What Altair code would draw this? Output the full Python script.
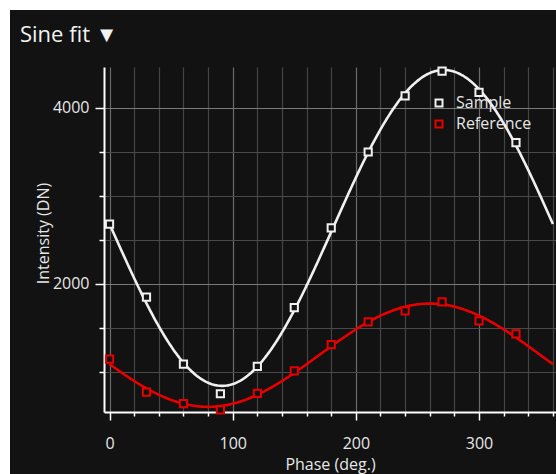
import altair as alt
import numpy as np
import pandas as pd

# ---- data ----
phase = [0, 30, 60, 90, 120, 150, 180, 210, 240, 270, 300, 330]
sample = [2677, 1850, 1089, 752, 1062, 1731, 2635, 3497, 4135, 4416, 4175, 3603]
reference = [1146, 771, 639, 568, 756, 1013, 1311, 1569, 1694, 1796, 1580, 1433]
series_names = ["Sample", "Reference"]
series_colors = ["#f0f0f0", "#e60000"]
x_ticks = list(range(0, 361, 20))
y_ticks = list(range(1000, 4001, 500))
title_text = "Sine fit \u25BC"

BG = "#121212"
TXT = "#e6e6e6"
FONT = "Open Sans"


def sine_fit(x, y, xs):
    """Least-squares fit y = a + b*sin(x) + c*cos(x) (x in degrees)."""
    r = np.radians(np.asarray(x, float))
    A = np.column_stack([np.ones_like(r), np.sin(r), np.cos(r)])
    coef, *_ = np.linalg.lstsq(A, np.asarray(y, float), rcond=None)
    rs = np.radians(xs)
    return coef[0] + coef[1] * np.sin(rs) + coef[2] * np.cos(rs)


pts = pd.DataFrame({
    "phase": phase * 2,
    "value": sample + reference,
    "series": [series_names[0]] * len(phase) + [series_names[1]] * len(phase),
})
xs = np.arange(0, 361, 1.0)
fit = pd.DataFrame({
    "phase": np.concatenate([xs, xs]),
    "value": np.concatenate([sine_fit(phase, sample, xs), sine_fit(phase, reference, xs)]),
    "series": [series_names[0]] * len(xs) + [series_names[1]] * len(xs),
})

x_scale = alt.Scale(domain=[-4.5, 362.5], nice=False, zero=False)
y_scale = alt.Scale(domain=[545, 4462], nice=False, zero=False)

x_axis = alt.Axis(
    values=x_ticks,
    labelExpr="datum.value % 100 === 0 ? datum.label : ''",
    tickSize={"condition": {"test": "datum.value % 100 === 0", "value": 8}, "value": 4},
    gridColor={"condition": {"test": "datum.value % 100 === 0", "value": "#6a6a6a"}, "value": "#444444"},
    title="Phase (deg.)",
    titleX=226, titleY=57, titleAlign="center", titleBaseline="alphabetic",
    labelPadding=15,
)
y_axis = alt.Axis(
    values=y_ticks,
    format="d",
    labelExpr="datum.value % 2000 === 0 ? datum.label : ''",
    tickSize={"condition": {"test": "datum.value % 2000 === 0", "value": 9}, "value": 5},
    gridColor={"condition": {"test": "datum.value % 2000 === 0", "value": "#7a7a7a"}, "value": "#4a4a4a"},
    title="Intensity (DN)",
    titleX=-61, titleY=166, titleAlign="center", titleBaseline="middle", titleAngle=-90,
    labelPadding=6,
)

color_scale = alt.Scale(domain=series_names, range=series_colors)
legend = alt.Legend(
    title=None, orient="none", legendX=327, legendY=28, zindex=0,
    symbolType="square", symbolSize=49, symbolStrokeWidth=2,
    symbolFillColor=BG, labelFontSize=16, labelColor=TXT, labelFont=FONT,
    labelOffset=9, rowPadding=5, padding=0,
)

X = alt.X("phase:Q", scale=x_scale, axis=x_axis)
Y = alt.Y("value:Q", scale=y_scale, axis=y_axis)
C = alt.Color("series:N", scale=color_scale, legend=legend)

lines = alt.Chart(fit).mark_line(strokeWidth=2.6).encode(
    x=X, y=Y, color=C, detail="series:N",
)

points = alt.Chart(pts).mark_point(
    shape="square", size=52, strokeWidth=2, opacity=1, filled=False, fill=BG
).encode(x=X, y=Y, color=C)

# white frame strips around the dark panel (top and left)
frame_df = pd.DataFrame({"k": [0]})
top_strip = alt.Chart(frame_df).mark_rect(color="white").encode(
    x=alt.value(-104), x2=alt.value(460), y=alt.value(-67), y2=alt.value(-57)
)
left_strip = alt.Chart(frame_df).mark_rect(color="white").encode(
    x=alt.value(-104), x2=alt.value(-94), y=alt.value(-67), y2=alt.value(420)
)
title = alt.Chart(frame_df).mark_text(
    align="left", baseline="alphabetic", fontSize=22, font=FONT, color="#f2f2f2"
).encode(x=alt.value(-84), y=alt.value(-25), text=alt.value(title_text))

chart = alt.layer(lines, points, top_strip, left_strip, title).properties(
    width=452,
    height=345,
    autosize="none",
    padding={"left": 104, "top": 67, "right": 0, "bottom": 62},
    background=BG,
).configure_view(
    stroke=None, fill=None
).configure_axis(
    domainColor="white", domainWidth=2, tickColor="white", tickWidth=1.5,
    labelColor=TXT, labelFont=FONT, labelFontSize=16,
    titleColor=TXT, titleFont=FONT, titleFontSize=16, titleFontWeight="normal",
    gridWidth=1.2,
)

chart.save("out.html", embed_options={"renderer": "svg", "actions": False})
